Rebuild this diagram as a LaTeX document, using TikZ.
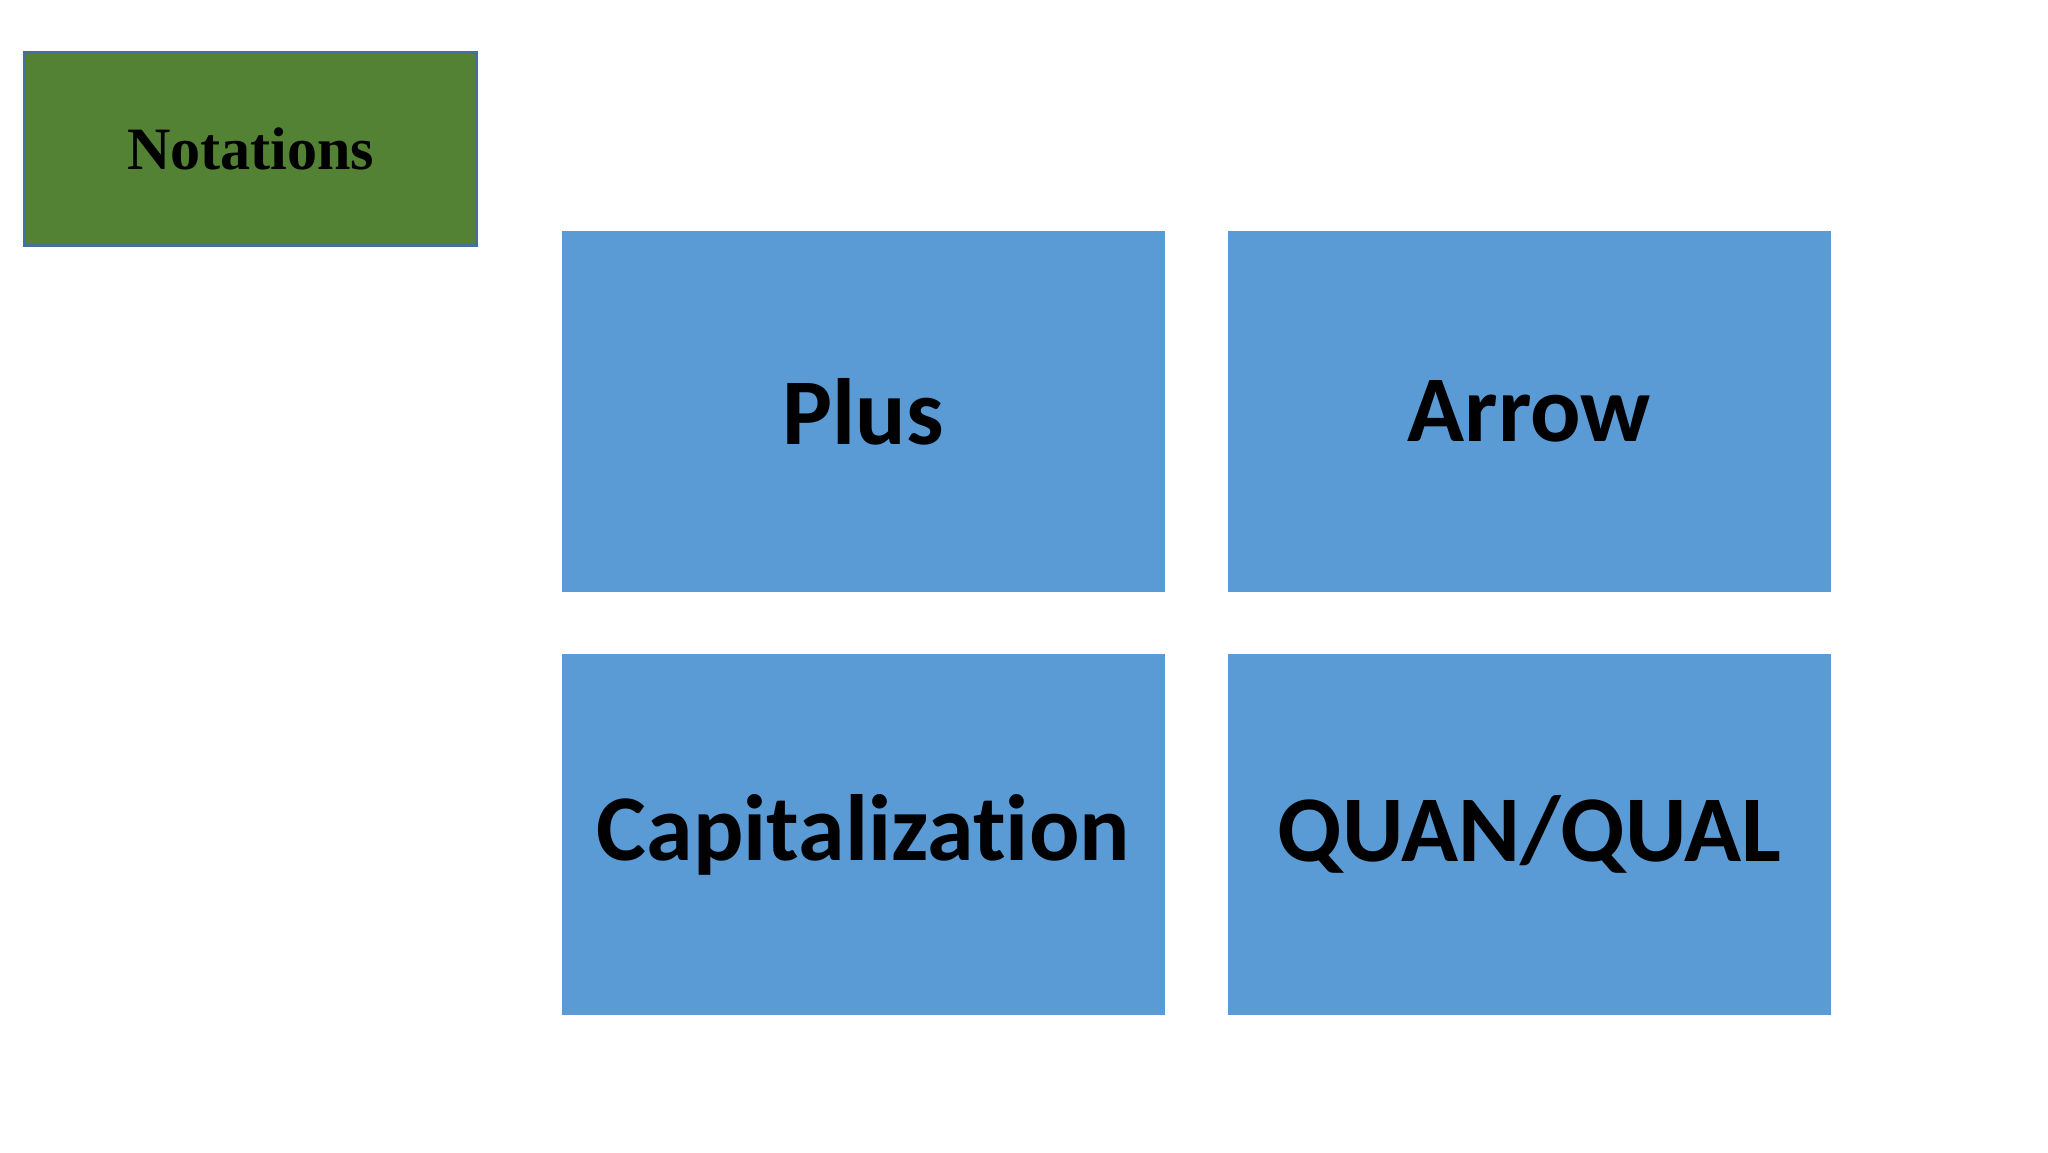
\documentclass[tikz,border=0pt]{standalone}
\usepackage{fontspec}
\setmainfont{Liberation Serif}
\newfontfamily\calfont[Ligatures=NoCommon]{Carlito}
\definecolor{leaf}{HTML}{548235}
\definecolor{leafline}{HTML}{41719C}
\definecolor{sky}{HTML}{5B9BD5}
\begin{document}
\begin{tikzpicture}[scale=1,
		title/.style={fill=leaf,draw=leafline,line width=0.6pt,minimum width=3.46cm,minimum height=1.48cm,inner sep=0pt,font=\fontsize{13.1}{16}\selectfont\bfseries},
		tile/.style={fill=sky,minimum width=4.62cm,minimum height=2.76cm,inner sep=0pt,font=\calfont\fontsize{20.5}{24}\selectfont\bfseries}]
					\useasboundingbox (0,0) rectangle (15.68,8.82);
					\node [title] (N) at (1.92,7.68) {Notations};
					\node [tile] (P) at (6.61,5.67) {Plus};
					\node [tile] (A) at (11.71,5.67) {Arrow};
					\node [tile] (C) at (6.61,2.43) {Capitalization};
					\node [tile] (Q) at (11.71,2.43) {QUAN/QUAL};
			\end{tikzpicture}
\end{document}
